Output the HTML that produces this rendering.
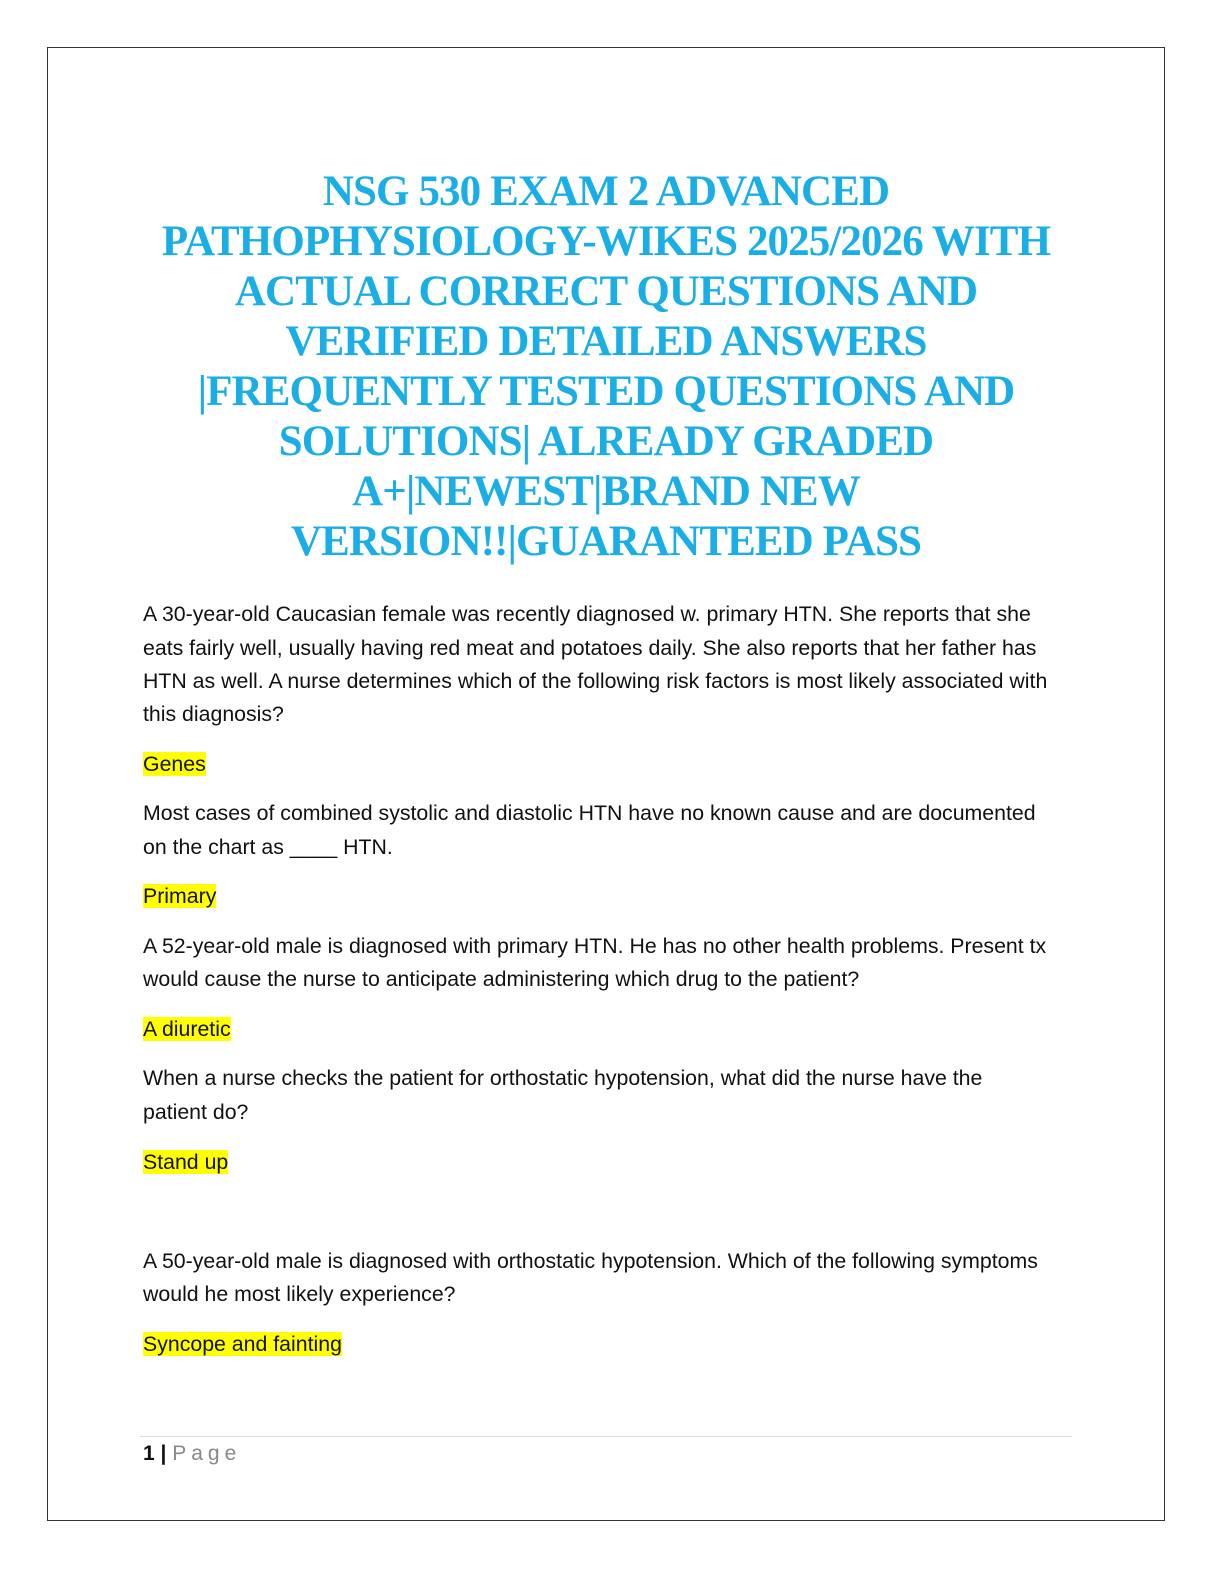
<!DOCTYPE html>
<html><head><meta charset="utf-8"><style>
body{margin:0;width:1224px;height:1584px;background:#fff;position:relative;overflow:hidden}
.frame{position:absolute;left:47px;top:47px;width:1116px;height:1472px;border:1px solid #333}
.t{position:absolute;left:0;width:1212px;text-align:center;font-family:"Liberation Serif",serif;font-weight:bold;font-size:43px;color:#1aaee6;letter-spacing:-0.9px;line-height:50px;white-space:nowrap}
.l{position:absolute;left:143px;font-family:"Liberation Sans",sans-serif;font-size:21.3px;line-height:26px;color:#111;white-space:nowrap}
.h{background:#ffff00}
</style></head><body>
<div class="frame"></div>
<div class="t" style="top:167px">NSG 530 EXAM 2 ADVANCED</div>
<div class="t" style="top:217px">PATHOPHYSIOLOGY-WIKES 2025/2026 WITH</div>
<div class="t" style="top:267px">ACTUAL CORRECT QUESTIONS AND</div>
<div class="t" style="top:317px">VERIFIED DETAILED ANSWERS</div>
<div class="t" style="top:367px">|FREQUENTLY TESTED QUESTIONS AND</div>
<div class="t" style="top:417px">SOLUTIONS| ALREADY GRADED</div>
<div class="t" style="top:467px">A+|NEWEST|BRAND NEW</div>
<div class="t" style="top:517px">VERSION!!|GUARANTEED PASS</div>

<div class="l" style="top:601px">A 30-year-old Caucasian female was recently diagnosed w. primary HTN. She reports that she</div>
<div class="l" style="top:635px">eats fairly well, usually having red meat and potatoes daily. She also reports that her father has</div>
<div class="l" style="top:668px">HTN as well. A nurse determines which of the following risk factors is most likely associated with</div>
<div class="l" style="top:701px">this diagnosis?</div>
<div class="l" style="top:751px"><span class="h">Genes</span></div>
<div class="l" style="top:800px">Most cases of combined systolic and diastolic HTN have no known cause and are documented</div>
<div class="l" style="top:834px">on the chart as ____ HTN.</div>
<div class="l" style="top:883px"><span class="h">Primary</span></div>
<div class="l" style="top:933px">A 52-year-old male is diagnosed with primary HTN. He has no other health problems. Present tx</div>
<div class="l" style="top:966px">would cause the nurse to anticipate administering which drug to the patient?</div>
<div class="l" style="top:1016px"><span class="h">A diuretic</span></div>
<div class="l" style="top:1065px">When a nurse checks the patient for orthostatic hypotension, what did the nurse have the</div>
<div class="l" style="top:1099px">patient do?</div>
<div class="l" style="top:1149px"><span class="h">Stand up</span></div>
<div class="l" style="top:1248px">A 50-year-old male is diagnosed with orthostatic hypotension. Which of the following symptoms</div>
<div class="l" style="top:1281px">would he most likely experience?</div>
<div class="l" style="top:1331px"><span class="h">Syncope and fainting</span></div>

<div style="position:absolute;left:140px;top:1436px;width:932px;border-top:1px solid #ddd"></div>
<div class="l" style="top:1441px;font-size:21px"><b>1 |</b> <span style="color:#888;letter-spacing:5px">Page</span></div>
</body></html>
